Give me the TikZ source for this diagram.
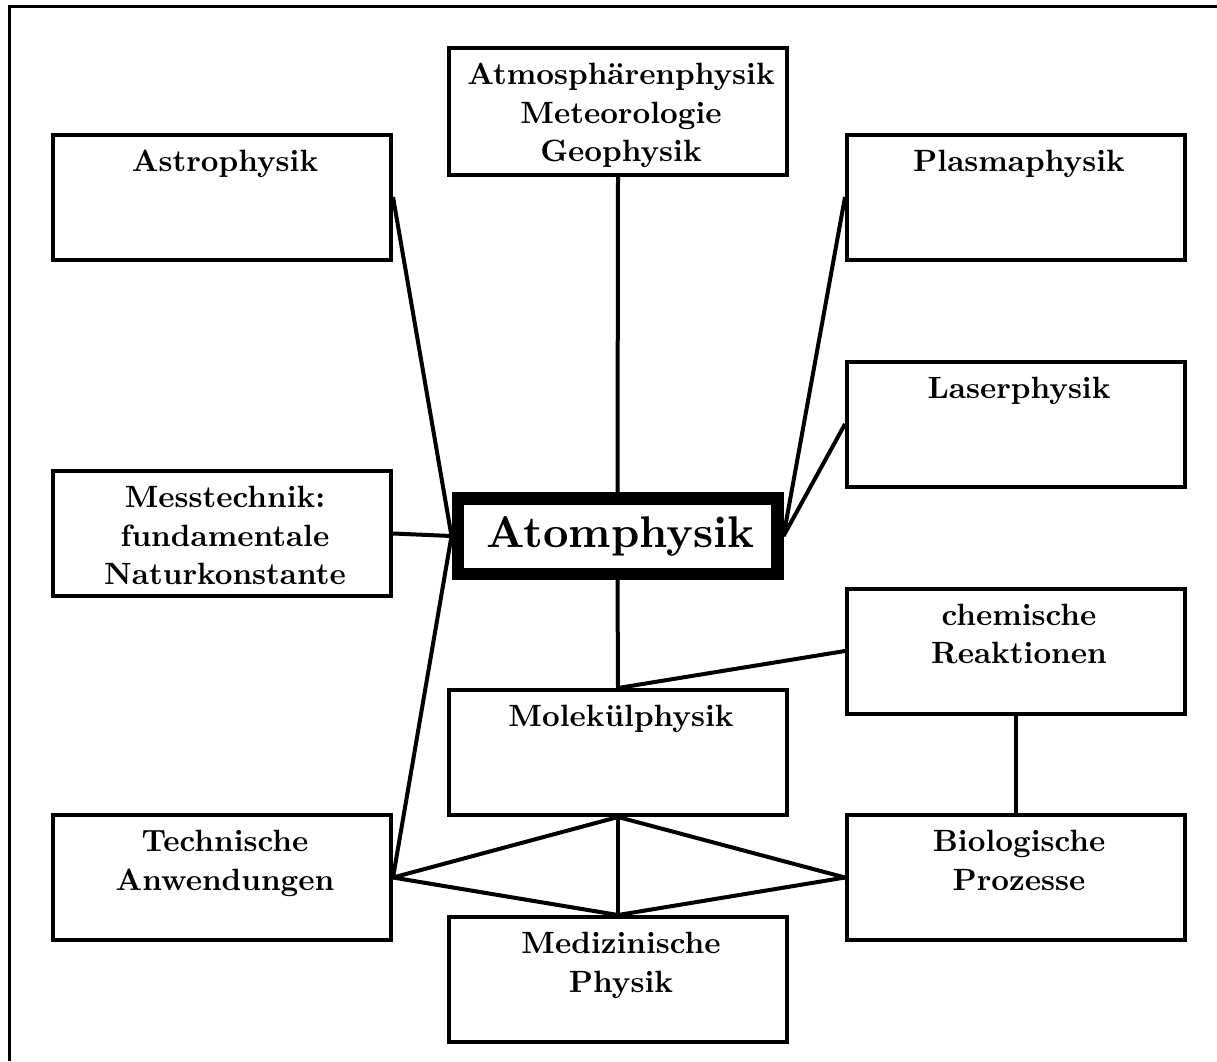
\documentclass[tikz,border=0pt]{standalone}
\usepackage{fontspec}
\setmainfont{lmroman10-regular.otf}[BoldFont=lmroman10-bold.otf]
\begin{document}
\begin{tikzpicture}[x=1pt,y=-1pt,
  box/.style={draw, line width=4pt, minimum width=338pt, minimum height=125pt, inner sep=0pt},
  lab/.style={anchor=north, align=center, inner sep=0pt, yshift=-11.6pt, xshift=3pt,
    font=\fontsize{30.8}{38.5}\selectfont\bfseries},
  atombox/.style={draw, line width=12.5pt, minimum width=319.5pt, minimum height=75.5pt,
    inner sep=0pt, font=\fontsize{44.35}{53}\selectfont\bfseries},
  conn/.style={line width=4pt},
  frame/.style={line width=2.7pt}]
\useasboundingbox (0,0) rectangle (1217,1061);
\draw[frame] (9.5,1061) -- (9.5,6.3) -- (1217,6.3);

\node[box, label={[lab]north:{\strut Astrophysik}}] (astro) at (222,197) {};
\node[box, minimum height=127pt, label={[lab]north:{\strut Atmosphärenphysik\\Meteorologie\\Geophysik}}] (atmos) at (618,111.5) {};
\node[box, label={[lab]north:{\strut Plasmaphysik}}] (plasma) at (1016,197) {};
\node[box, label={[lab]north:{\strut Laserphysik}}] (laser) at (1016,424) {};
\node[box, label={[lab]north:{\strut Messtechnik:\\fundamentale\\Naturkonstante}}] (mess) at (222,533.5) {};
\node[box, label={[lab]north:{\strut chemische\\Reaktionen}}] (chem) at (1016,651) {};
\node[box, label={[lab]north:{\strut Molekülphysik}}] (molek) at (618,752.5) {};
\node[box, label={[lab]north:{\strut Technische\\Anwendungen}}] (techn) at (222,877.5) {};
\node[box, label={[lab]north:{\strut Biologische\\Prozesse}}] (bio) at (1016,877.5) {};
\node[box, label={[lab]north:{\strut Medizinische\\Physik}}] (mediz) at (618,979.5) {};
\node[atombox] (atom) at (617.5,536) {\hspace*{6pt}Atomphysik};

\draw[conn] (atmos.south) -- (atom.north);
\draw[conn] (astro.east) -- (atom.west);
\draw[conn] (mess.east) -- (atom.west);
\draw[conn] (techn.east) -- (atom.west);
\draw[conn] (plasma.west) -- (atom.east);
\draw[conn] (laser.west) -- (atom.east);
\draw[conn] (atom.south) -- (molek.north);
\draw[conn] (chem.west) -- (molek.north);
\draw[conn] (chem.south) -- (bio.north);
\draw[conn] (molek.south) -- (techn.east);
\draw[conn] (molek.south) -- (bio.west);
\draw[conn] (molek.south) -- (mediz.north);
\draw[conn] (techn.east) -- (mediz.north);
\draw[conn] (bio.west) -- (mediz.north);
\end{tikzpicture}
\end{document}
